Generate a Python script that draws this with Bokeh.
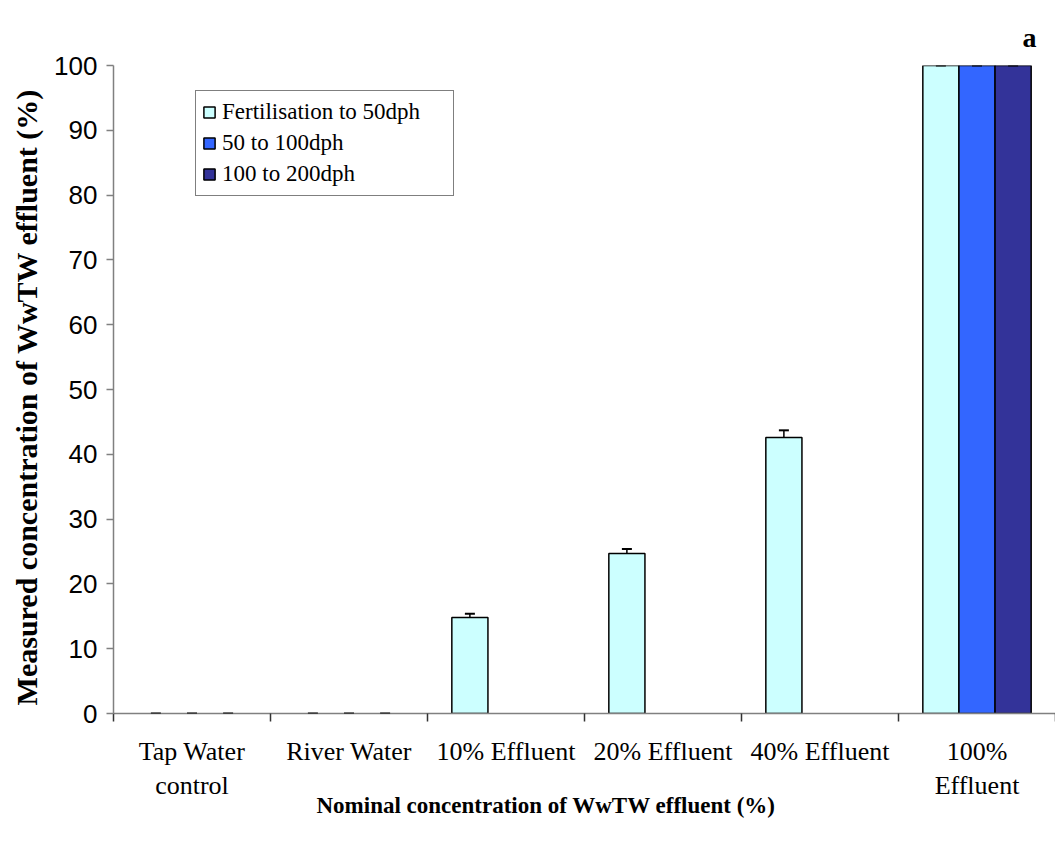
import math

from bokeh.embed import file_html
from bokeh.models import (ColumnDataSource, FixedTicker, Legend, LegendItem,
                          Range1d, TeeHead, Title, Whisker)
from bokeh.plotting import figure
from bokeh.resources import INLINE

# ---- data -------------------------------------------------------------
categories = ["Tap Water\ncontrol", "River Water", "10% Effluent",
              "20% Effluent", "40% Effluent", "100%\nEffluent"]

series_names = ["Fertilisation to 50dph", "50 to 100dph", "100 to 200dph"]

fert_to_50 = [0.0, 0.0, 14.8, 24.7, 42.6, 100.0]
fert_to_50_err = [0.0, 0.0, 0.6, 0.7, 1.1, 0.0]

dph_50_100 = [0.0, 0.0, math.nan, math.nan, math.nan, 100.0]
dph_50_100_err = [0.0, 0.0, math.nan, math.nan, math.nan, 0.0]

dph_100_200 = [0.0, 0.0, math.nan, math.nan, math.nan, 100.0]
dph_100_200_err = [0.0, 0.0, math.nan, math.nan, math.nan, 0.0]

y_ticks = [0, 10, 20, 30, 40, 50, 60, 70, 80, 90, 100]

# ---- styling ------------------------------------------------------------
colors = ["#CCFFFF", "#3366FF", "#333399"]
serif = "Liberation Serif"
sans = "Liberation Sans"
bar_w = 0.23
offsets = [-bar_w, 0.0, bar_w]

n = len(categories)
centers = [i + 0.5 for i in range(n)]
bounds = [float(i) for i in range(n + 1)]

p = figure(width=1055, height=843,
           x_range=Range1d(0, n), y_range=Range1d(0, 100),
           output_backend="svg", toolbar_location=None,
           min_border_left=113, min_border_right=0,
           min_border_top=65, min_border_bottom=130)
p.outline_line_color = None
p.xgrid.grid_line_color = None
p.ygrid.grid_line_color = None
p.background_fill_color = "white"
p.border_fill_color = "white"

legend_items = []
all_values = [fert_to_50, dph_50_100, dph_100_200]
all_errors = [fert_to_50_err, dph_50_100_err, dph_100_200_err]

for name, vals, errs, col, off in zip(series_names, all_values, all_errors,
                                      colors, offsets):
    # bars (zero-height bars are not drawn, only their error caps)
    bx, btop = [], []
    wx, wlow, wup = [], [], []
    for c, v, e in zip(centers, vals, errs):
        if math.isnan(v):
            continue
        if v > 0:
            bx.append(c + off)
            btop.append(v)
        wx.append(c + off)
        wlow.append(v)
        wup.append(v + e)
    bsrc = ColumnDataSource(dict(x=bx, top=btop))
    r = p.vbar(x="x", top="top", bottom=0, width=bar_w, source=bsrc,
               fill_color=col, line_color="black", line_width=1.5)
    legend_items.append(LegendItem(label=name, renderers=[r]))

    wsrc = ColumnDataSource(dict(x=wx, lower=wlow, upper=wup))
    p.add_layout(Whisker(source=wsrc, base="x", lower="lower", upper="upper",
                         dimension="height", line_color="black", line_width=1.5,
                         upper_head=TeeHead(size=10, line_color="black",
                                            line_width=2),
                         lower_head=None, level="overlay"))

# ---- axes -------------------------------------------------------------
xa = p.xaxis[0]
xa.ticker = FixedTicker(ticks=centers, minor_ticks=bounds)
xa.major_label_overrides = {c: lab for c, lab in zip(centers, categories)}
xa.major_tick_line_color = None
xa.major_tick_out = 8
xa.major_tick_in = 0
xa.minor_tick_line_color = "#333333"
xa.minor_tick_line_width = 1.5
xa.minor_tick_out = 8
xa.minor_tick_in = 0
xa.axis_line_color = "#808080"
xa.axis_line_width = 1.5
xa.major_label_text_font = serif
xa.major_label_text_font_size = "26px"
xa.major_label_text_color = "black"
xa.major_label_standoff = 15

ya = p.yaxis[0]
ya.ticker = FixedTicker(ticks=y_ticks, minor_ticks=[])
ya.axis_line_color = "#808080"
ya.axis_line_width = 1.5
ya.major_tick_line_color = "#808080"
ya.major_tick_line_width = 1.5
ya.major_tick_out = 7
ya.major_tick_in = 0
ya.minor_tick_line_color = None
ya.major_label_text_font = sans
ya.major_label_text_font_size = "26px"
ya.major_label_text_color = "black"
ya.major_label_standoff = 9
ya.axis_label = "Measured concentration of  WwTW effluent  (%)"
ya.axis_label_text_font = serif
ya.axis_label_text_font_style = "bold"
ya.axis_label_text_font_size = "30px"
ya.axis_label_text_color = "black"
ya.axis_label_standoff = 8

# ---- titles -------------------------------------------------------------
x_title = Title(text="Nominal concentration of WwTW effluent  (%)",
                align="left", offset=203, standoff=-29,
                text_font=serif, text_font_style="bold",
                text_font_size="23px", text_color="black")
p.add_layout(x_title, "below")

panel_tag = Title(text="a", align="right", offset=19, standoff=24,
                  vertical_align="middle",
                  text_font=serif, text_font_style="bold",
                  text_font_size="28px", text_color="black")
p.add_layout(panel_tag, "above")

# ---- legend -------------------------------------------------------------
legend = Legend(items=legend_items, location=(82, 517),
                label_text_font=serif, label_text_font_size="23px",
                label_text_color="black",
                glyph_width=14, glyph_height=14,
                label_height=30, label_width=225, label_standoff=6,
                spacing=1, padding=6, margin=0,
                border_line_color="black", border_line_width=1,
                background_fill_color="white", background_fill_alpha=1.0)
p.add_layout(legend)

open("out.html", "w").write(file_html(p, INLINE))
